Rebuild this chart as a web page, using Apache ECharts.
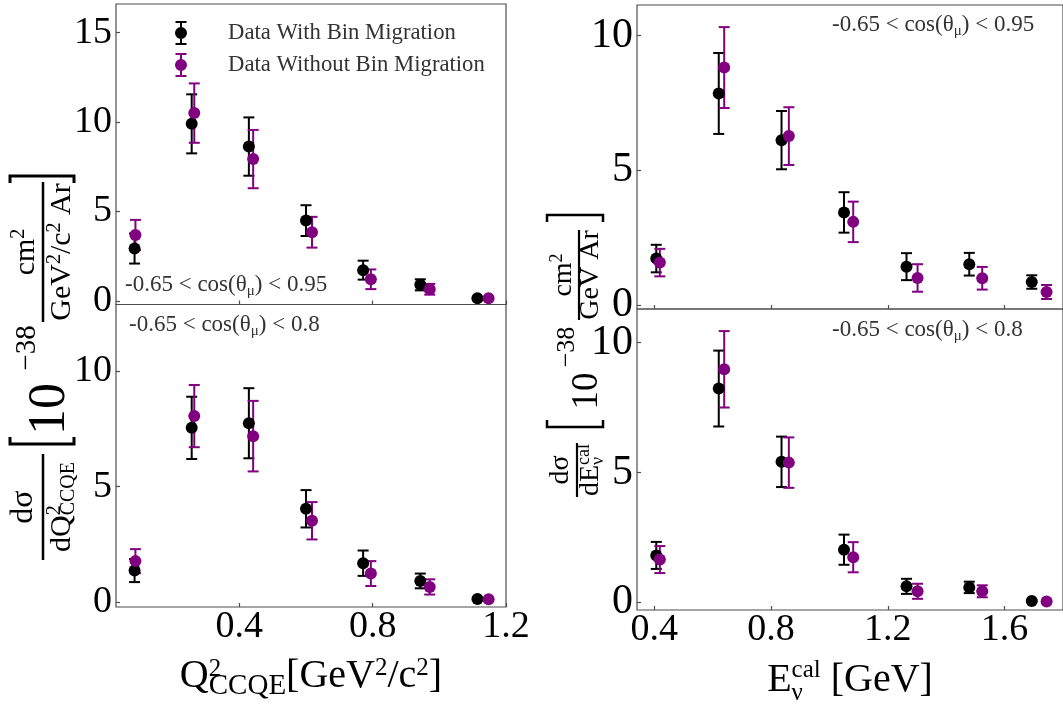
<!DOCTYPE html>
<html>
<head>
<meta charset="utf-8">
<script src="https://cdn.jsdelivr.net/npm/echarts@6/dist/echarts.min.js"></script>
<style>
  html, body { margin: 0; padding: 0; background: #fff; }
  #chart { width: 1063px; height: 707px; }
</style>
</head>
<body>
<div id="chart"></div>
<script>
// Bin centres of the two reconstructed variables
const q2Centers = [0.0857, 0.2571, 0.4286, 0.6000, 0.7714, 0.9429, 1.1143];   // GeV^2/c^2
const eCalCenters = [0.407, 0.621, 0.836, 1.050, 1.264, 1.479, 1.693];        // GeV

// dσ/dQ²_CCQE, -0.65 < cos θμ < 0.95   [1e-38 cm² / (GeV²/c² Ar)]
const q2With95 = [2.93, 9.90, 8.63, 4.49, 1.72, 0.90, 0.15];
const q2With95Err = [0.84, 1.65, 1.63, 0.86, 0.53, 0.31, 0.05];
const q2Without95 = [3.69, 10.50, 7.93, 3.84, 1.21, 0.65, 0.15];
const q2Without95Err = [0.84, 1.66, 1.63, 0.86, 0.55, 0.30, 0.05];

// dσ/dQ²_CCQE, -0.65 < cos θμ < 0.8
const q2With80 = [1.36, 7.55, 7.75, 4.04, 1.68, 0.91, 0.13];
const q2With80Err = [0.50, 1.35, 1.52, 0.81, 0.55, 0.32, 0.05];
const q2Without80 = [1.77, 8.06, 7.19, 3.52, 1.23, 0.65, 0.12];
const q2Without80Err = [0.52, 1.35, 1.53, 0.81, 0.54, 0.33, 0.05];

// dσ/dE_ν^cal, -0.65 < cos θμ < 0.95   [1e-38 cm² / (GeV Ar)]
const eWith95 = [1.73, 7.85, 6.12, 3.44, 1.43, 1.52, 0.86];
const eWith95Err = [0.51, 1.50, 1.08, 0.75, 0.50, 0.42, 0.25];
const eWithout95 = [1.58, 8.81, 6.27, 3.09, 1.01, 1.00, 0.49];
const eWithout95Err = [0.51, 1.50, 1.07, 0.75, 0.51, 0.42, 0.26];

// dσ/dE_ν^cal, -0.65 < cos θμ < 0.8
const eWith80 = [1.81, 8.23, 5.41, 2.03, 0.62, 0.58, 0.06];
const eWith80Err = [0.52, 1.46, 0.97, 0.58, 0.29, 0.22, 0.03];
const eWithout80 = [1.65, 8.97, 5.38, 1.74, 0.43, 0.43, 0.04];
const eWithout80Err = [0.52, 1.47, 0.97, 0.58, 0.29, 0.23, 0.03];

const q2Ticks = [0.4, 0.8, 1.2];
const eCalTicks = [0.4, 0.8, 1.2, 1.6];
const yTicksTL = [0, 5, 10, 15];
const yTicks = [0, 5, 10];

const WITH = 'Data With Bin Migration';
const WITHOUT = 'Data Without Bin Migration';
const BLACK = '#000000';
const PURPLE = '#800080';
const FONT = '"Liberation Serif", "DejaVu Serif", serif';
const FRAME = '#4d4d4d';
const DODGE = 1.03;   // horizontal offset of the second data set

const chart = echarts.init(document.getElementById('chart'), null, { renderer: 'canvas' });

const grids = [
  { left: 116, top: 4, width: 390, height: 300.5 },
  { left: 116, top: 304.5, width: 390, height: 302.5 },
  { left: 637, top: 5, width: 428, height: 304 },
  { left: 637, top: 309, width: 428, height: 303.5 }
].map(g => Object.assign({ show: true, borderColor: FRAME, borderWidth: 1.2, backgroundColor: 'transparent' }, g));

const supSub = {
  b: { fontFamily: FONT, fontSize: 40, align: 'left', color: '#000' },
  z: { fontFamily: FONT, fontSize: 25, align: 'left', width: 0, padding: [0, 0, 13, 0], color: '#000' },
  sb: { fontFamily: FONT, fontSize: 29, align: 'left', padding: [21, 0, 0, 0], color: '#000' },
  sp: { fontFamily: FONT, fontSize: 25, align: 'left', padding: [0, 0, 15, 0], color: '#000' },
  zs: { fontFamily: FONT, fontSize: 25, align: 'left', width: 0, padding: [27, 0, 0, 0], color: '#000' },
  sc: { fontFamily: FONT, fontSize: 25, align: 'left', padding: [0, 0, 19, 0], color: '#000' }
};

function xAxis(gridIndex, min, max, ticks, showLabels, name) {
  return {
    gridIndex, type: 'value', min, max,
    axisLine: { show: false, onZero: false },
    splitLine: { show: false },
    axisTick: { show: true, inside: true, length: 4, customValues: ticks, lineStyle: { color: FRAME, width: 1.2 } },
    axisLabel: { show: showLabels, customValues: ticks, fontFamily: FONT, fontSize: 38, color: '#000', margin: 1 },
    name: name || '',
    nameLocation: 'middle',
    nameGap: 44,
    nameTextStyle: { fontFamily: FONT, fontSize: 40, color: '#000', rich: supSub }
  };
}
function yAxis(gridIndex, min, max, ticks, size) {
  return {
    gridIndex, type: 'value', min, max,
    axisLine: { show: false, onZero: false },
    splitLine: { show: false },
    axisTick: { show: true, inside: true, length: 4, customValues: ticks, lineStyle: { color: FRAME, width: 1.2 } },
    axisLabel: { customValues: ticks, fontFamily: FONT, fontSize: size, color: '#000', margin: 4 }
  };
}

// vertical error bar with caps, drawn in data space
function renderErrorBar(params, api) {
  const x = api.value(0);
  const lo = api.coord([x, api.value(1)]);
  const hi = api.coord([x, api.value(2)]);
  const hw = 5.5;
  const style = { stroke: api.visual('color'), lineWidth: 2 };
  return {
    type: 'group',
    children: [
      { type: 'line', shape: { x1: lo[0], y1: lo[1], x2: hi[0], y2: hi[1] }, style },
      { type: 'line', shape: { x1: lo[0] - hw, y1: lo[1], x2: lo[0] + hw, y2: lo[1] }, style },
      { type: 'line', shape: { x1: hi[0] - hw, y1: hi[1], x2: hi[0] + hw, y2: hi[1] }, style }
    ]
  };
}

function dataSet(idx, name, color, xs, ys, errs, shift) {
  const pts = xs.map((x, i) => [x * shift, ys[i]]);
  const bars = xs.map((x, i) => [x * shift, ys[i] - errs[i], ys[i] + errs[i]]);
  return [
    {
      type: 'custom', name, xAxisIndex: idx, yAxisIndex: idx,
      renderItem: renderErrorBar, itemStyle: { color },
      encode: { x: 0, y: [1, 2] }, data: bars, silent: true
    },
    {
      type: 'scatter', name, xAxisIndex: idx, yAxisIndex: idx,
      symbol: 'circle', symbolSize: 12, itemStyle: { color, opacity: 1 },
      data: pts, silent: true, emphasis: { disabled: true }
    }
  ];
}

const panels = [
  [q2Centers, q2With95, q2With95Err, q2Without95, q2Without95Err],
  [q2Centers, q2With80, q2With80Err, q2Without80, q2Without80Err],
  [eCalCenters, eWith95, eWith95Err, eWithout95, eWithout95Err],
  [eCalCenters, eWith80, eWith80Err, eWithout80, eWithout80Err]
];
const series = [];
panels.forEach((p, i) => {
  series.push(...dataSet(i, WITH, BLACK, p[0], p[1], p[2], 1));
  series.push(...dataSet(i, WITHOUT, PURPLE, p[0], p[3], p[4], DODGE));
});

// legend glyph: marker with an error bar
const ERR_ICON = 'path://M0.5 0h11v2h-11z M5 0h2v24h-2z M0.5 22h11v2h-11z M0 12a6 6 0 1 1 12 0a6 6 0 1 1 -12 0z';

// cut annotations
function cutLabel(x, y, upper) {
  return {
    type: 'text', x, y, silent: true,
    style: {
      text: '-0.65 < cos(θ{s|μ}) < ' + upper,
      fontFamily: FONT, fontSize: 23, fill: '#333', verticalAlign: 'middle',
      rich: { s: { fontFamily: FONT, fontSize: 15, fill: '#333', padding: [12, 0, 0, 0] } }
    }
  };
}

// pieces of the stacked y-axis titles (drawn in a frame rotated by 90°)
function richFor(size) {
  const s = Math.round(size * 0.65);
  const base = { fontFamily: FONT, align: 'left', fill: '#000' };
  return {
    b: Object.assign({}, base, { fontSize: size }),
    z: Object.assign({}, base, { fontSize: s, width: 0, padding: [0, 0, Math.round(size * 0.45), 0] }),
    zs: Object.assign({}, base, { fontSize: s, width: 0, padding: [Math.round(size * 0.5), 0, 0, 0] }),
    sb: Object.assign({}, base, { fontSize: s, padding: [Math.round(size * 0.45), 0, 0, 0] }),
    sp: Object.assign({}, base, { fontSize: s, padding: [0, 0, Math.round(size * 0.45), 0] })
  };
}
function T(u, v, text, size) {
  return { type: 'text', x: u, y: v, silent: true,
    style: { text, fontFamily: FONT, fontSize: size, fill: '#000', align: 'center', verticalAlign: 'middle', rich: richFor(size) } };
}
function bar(u1, u2, v, w) {
  return { type: 'line', silent: true, shape: { x1: u1, y1: v, x2: u2, y2: v }, style: { stroke: '#000', lineWidth: w } };
}
function bracket(u, dir, v1, v2, w) {
  return { type: 'polyline', silent: true,
    shape: { points: [[u + dir * 7, v1], [u, v1], [u, v2], [u + dir * 7, v2]] },
    style: { stroke: '#000', lineWidth: w, fill: null } };
}

const leftTitle = {
  type: 'group', x: 0, y: 560, rotation: Math.PI / 2, silent: true,
  children: [
    bar(0, 106, 43, 2.5),
    T(53, 24, 'dσ', 32),
    T(53, 62, '{b|dQ}{z|2}{sb|CCQE}', 30),
    bracket(116, 1, 10, 74, 3),
    T(151, 50, '10', 52),
    T(212, 27, '−38', 29),
    bar(238, 378, 43, 2.5),
    T(308, 26, '{b|cm}{sp|2}', 30),
    T(308, 62, '{b|GeV}{sp|2}{b|/c}{sp|2}{b| Ar}', 30),
    bracket(384, -1, 10, 74, 3)
  ]
};
const rightTitle = {
  type: 'group', x: 0, y: 560, rotation: Math.PI / 2, silent: true,
  children: [
    bar(63, 117, 577, 2.2),
    T(90, 561, 'dσ', 28),
    T(90, 591, '{b|dE}{zs|ν}{sp|cal}', 28),
    bracket(133, 1, 547, 603, 2.5),
    T(169, 587, '10', 37),
    T(213, 567, '−38', 26),
    bar(240, 330, 579, 2.2),
    T(285, 564, '{b|cm}{sp|2}', 28),
    T(285, 591, 'GeV Ar', 28),
    bracket(345, -1, 547, 603, 2.5)
  ]
};

const option = {
  animation: false,
  backgroundColor: '#ffffff',
  grid: grids,
  xAxis: [
    xAxis(0, 0.03, 1.2, q2Ticks, false),
    xAxis(1, 0.03, 1.2, q2Ticks, true, '{b|Q}{z|2}{sb|CCQE}{b|[GeV}{sp|2}{b|/c}{sp|2}{b|]}'),
    xAxis(2, 0.341, 1.8, eCalTicks, false),
    xAxis(3, 0.341, 1.8, eCalTicks, true, '{b|E}{zs|ν}{sc|cal}{b| [GeV]}')
  ],
  yAxis: [
    yAxis(0, -0.2, 16.6, yTicksTL, 38),
    yAxis(1, -0.22, 12.9, yTicks, 38),
    yAxis(2, -0.14, 11.13, yTicks, 42),
    yAxis(3, -0.29, 11.29, yTicks, 42)
  ],
  legend: {
    orient: 'vertical', left: 175, top: 21, padding: 0,
    itemWidth: 12, itemHeight: 24, itemGap: 8,
    selectedMode: false,
    textStyle: { fontFamily: FONT, fontSize: 22.7, color: '#333', padding: [0, 0, 0, 36] },
    data: [
      { name: WITH, icon: ERR_ICON, itemStyle: { color: BLACK } },
      { name: WITHOUT, icon: ERR_ICON, itemStyle: { color: PURPLE } }
    ]
  },
  graphic: [
    cutLabel(125, 285, '0.95'),
    cutLabel(129, 325, '0.8'),
    cutLabel(832, 25, '0.95'),
    cutLabel(832, 330, '0.8'),
    leftTitle,
    rightTitle
  ],
  series
};

chart.setOption(option);
</script>
</body>
</html>
